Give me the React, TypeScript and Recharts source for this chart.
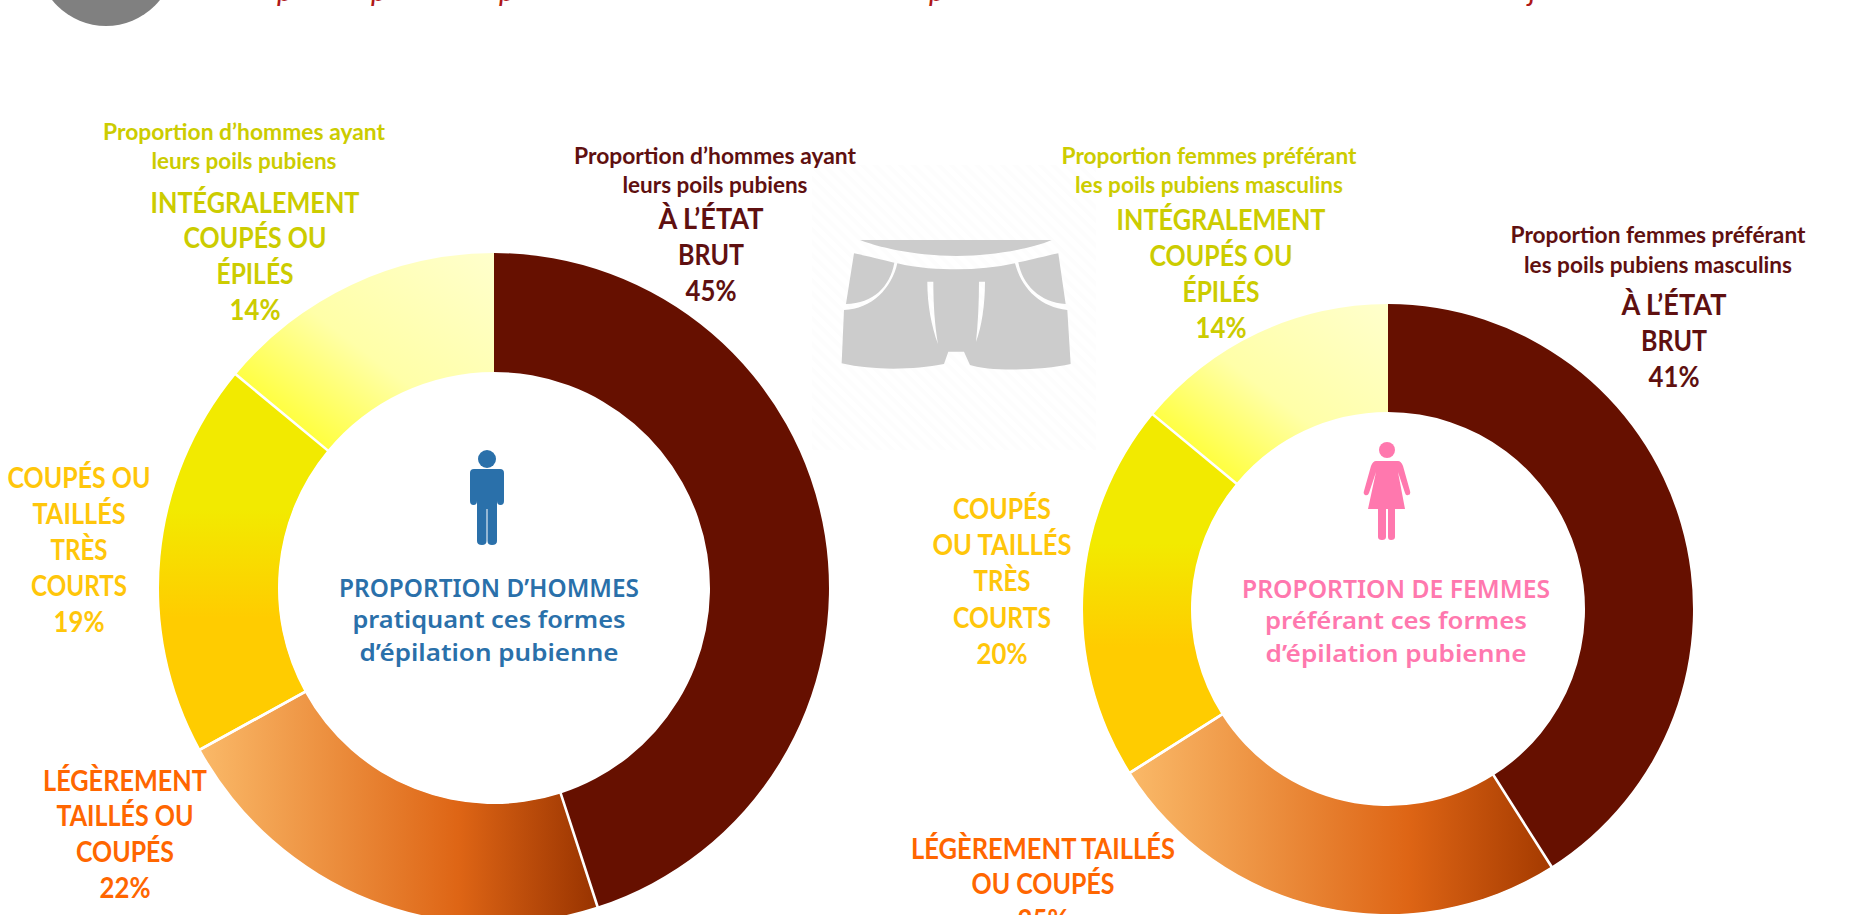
import React from "react";
import { PieChart, Pie, Cell } from "recharts";

const categories = ["À l'état brut", "Légèrement taillés ou coupés", "Coupés ou taillés très courts", "Intégralement coupés ou épilés"];
const menValues = [45, 22, 19, 14];
const womenValues = [41, 25, 20, 14];
const menData = categories.map((name, i) => ({ name, value: menValues[i] }));
const womenData = categories.map((name, i) => ({ name, value: womenValues[i] }));

const W = 1854, H = 915;
const fillsMen = ["#661000", "url(#orangeMen)", "url(#yellowMid)", "url(#paleMen)"];
const fillsWomen = ["#661000", "url(#orangeWomen)", "url(#yellowMid)", "url(#paleMen)"];
const separatorStroke = ["none", "#ffffff", "#ffffff", "none"];

const BODY = "Lato, Carlito, sans-serif";
const CENTER = "'Noto Sans', 'DejaVu Sans', sans-serif";
const C_OLIVE = "#cccc00", C_BROWN = "#5f1010", C_GOLD = "#ffc60a", C_ORANGE = "#ff6600", C_BLUE = "#2a70aa", C_PINK = "#ff78ae";

type L = [string, number, number, number];
const small = 22, big = 28;
const labels: { c: string; size: number; rows: L[] }[] = [
  { c: C_OLIVE, size: small, rows: [["Proportion d’hommes ayant", 244, 140, 282], ["leurs poils pubiens", 244, 169, 185]] },
  { c: C_OLIVE, size: big, rows: [["INTÉGRALEMENT", 255, 213, 209], ["COUPÉS OU", 255, 248, 143], ["ÉPILÉS", 255, 284, 77], ["14%", 255, 320, 51]] },
  { c: C_BROWN, size: small, rows: [["Proportion d’hommes ayant", 715, 164, 282], ["leurs poils pubiens", 715, 193, 185]] },
  { c: C_BROWN, size: big, rows: [["À L’ÉTAT", 711, 229, 105], ["BRUT", 711, 265, 66], ["45%", 711, 301, 51]] },
  { c: C_GOLD, size: big, rows: [["COUPÉS OU", 79, 488, 143], ["TAILLÉS", 79, 524, 93], ["TRÈS", 79, 560, 57], ["COURTS", 79, 596, 96], ["19%", 79, 632, 51]] },
  { c: C_ORANGE, size: big, rows: [["LÉGÈREMENT", 125, 791, 164], ["TAILLÉS OU", 125, 826, 137], ["COUPÉS", 125, 862, 98], ["22%", 125, 898, 51]] },
  { c: C_OLIVE, size: small, rows: [["Proportion femmes préférant", 1209, 164, 295], ["les poils pubiens masculins", 1209, 193, 268]] },
  { c: C_OLIVE, size: big, rows: [["INTÉGRALEMENT", 1221, 230, 209], ["COUPÉS OU", 1221, 266, 143], ["ÉPILÉS", 1221, 302, 77], ["14%", 1221, 338, 51]] },
  { c: C_BROWN, size: small, rows: [["Proportion femmes préférant", 1658, 243, 295], ["les poils pubiens masculins", 1658, 273, 268]] },
  { c: C_BROWN, size: big, rows: [["À L’ÉTAT", 1674, 315, 105], ["BRUT", 1674, 351, 66], ["41%", 1674, 387, 51]] },
  { c: C_GOLD, size: big, rows: [["COUPÉS", 1002, 519, 98], ["OU TAILLÉS", 1002, 555, 139], ["TRÈS", 1002, 591, 57], ["COURTS", 1002, 628, 98], ["20%", 1002, 664, 51]] },
  { c: C_ORANGE, size: big, rows: [["LÉGÈREMENT TAILLÉS", 1043, 859, 264], ["OU COUPÉS", 1043, 894, 143], ["25%", 1043, 930, 51]] },
];
const centerLabels: { c: string; size: number; rows: L[] }[] = [
  { c: C_BLUE, size: 25, rows: [["PROPORTION D’HOMMES", 489, 597, 300]] },
  { c: C_BLUE, size: 24, rows: [["pratiquant ces formes", 489, 628, 273], ["d’épilation pubienne", 489, 661, 259]] },
  { c: C_PINK, size: 25, rows: [["PROPORTION DE FEMMES", 1396, 598, 308]] },
  { c: C_PINK, size: 24, rows: [["préférant ces formes", 1396, 629, 262], ["d’épilation pubienne", 1396, 662, 261]] },
];
const clippedTitleMarks: [string, number][] = [["p", 277], ["p", 371], ["p", 499], ["p", 929], ["j", 1529]];

const Rows = ({ groups, font, weight }: { groups: typeof labels; font: string; weight: number }) => (
  <g>
    {groups.flatMap((g, gi) =>
      g.rows.map(([t, x, y, len], i) => (
        <text key={gi + "-" + i} x={x} y={y} textAnchor="middle" fill={g.c} fontFamily={font} fontWeight={weight} fontSize={g.size} textLength={len} lengthAdjust="spacingAndGlyphs">
          {t}
        </text>
      ))
    )}
  </g>
);

export default function App() {
  return (
    <div style={{ position: "absolute", left: 0, top: 0, width: W, height: H, overflow: "hidden", background: "#fff" }}>
      <PieChart width={W} height={H} margin={{ top: 0, right: 0, bottom: 0, left: 0 }}>
        <defs>
          <linearGradient id="orangeMen" x1="0" y1="0" x2="1" y2="0">
            <stop offset="0" stopColor="#fab968" />
            <stop offset="0.65" stopColor="#de6515" />
            <stop offset="1" stopColor="#983300" />
          </linearGradient>
          <linearGradient id="orangeWomen" x1="0" y1="0" x2="1" y2="0">
            <stop offset="0" stopColor="#fab968" />
            <stop offset="0.66" stopColor="#de6515" />
            <stop offset="1" stopColor="#a43a00" />
          </linearGradient>
          <linearGradient id="yellowMid" x1="0" y1="0" x2="0" y2="1">
            <stop offset="0.36" stopColor="#f2ea00" />
            <stop offset="0.65" stopColor="#ffcc00" />
            <stop offset="1" stopColor="#ffcc00" />
          </linearGradient>
          <linearGradient id="paleMen" x1="0" y1="1" x2="1" y2="0">
            <stop offset="0.18" stopColor="#ffff40" />
            <stop offset="0.5" stopColor="#ffffa8" />
            <stop offset="1" stopColor="#ffffcc" />
          </linearGradient>
          <pattern id="hatch" width="9" height="9" patternUnits="userSpaceOnUse" patternTransform="rotate(45)">
            <rect width="9" height="4" fill="#fdfdfd" />
          </pattern>
        </defs>

        <circle cx={106} cy={-43} r={69} fill="#808080" />
        {clippedTitleMarks.map(([t, x], i) => (
          <text key={i} x={x} y={1} fill="#b01818" fontFamily={BODY} fontStyle="italic" fontWeight={400} fontSize={30}>{t}</text>
        ))}

        <rect x={812} y={165} width={284} height={285} fill="url(#hatch)" />
        <g transform="translate(800 210) scale(0.3333)" fill="#cccccc">
          <path d="M180 90 L755 90 C690 118 570 138 470 138 C370 138 250 118 180 90 Z" />
          <path d="M162 130 C220 142 270 155 283 158 C270 230 220 280 138 282 Z" />
          <path d="M775 130 C720 142 680 152 655 157 C668 225 720 278 797 282 Z" />
          <path fillRule="evenodd" d="M132 300 C215 298 275 235 292 160 C350 175 420 178 470 178 C530 178 590 172 645 160 C665 235 720 292 802 300 L812 462 C720 482 570 485 510 465 L492 425 L445 425 L432 462 C340 480 220 482 125 460 Z M382 215 L400 215 C400 280 404 345 414 402 C395 350 382 285 382 215 Z M537 215 L555 215 C555 285 545 350 528 396 C534 340 537 280 537 215 Z" />
        </g>

        <Pie data={menData} dataKey="value" nameKey="name" cx={494} cy={588} outerRadius={335} innerRadius={216} startAngle={90} endAngle={-270} isAnimationActive={false} stroke="none">
          {menData.map((d, i) => <Cell key={d.name} fill={fillsMen[i]} stroke="none" />)}
        </Pie>
        <Pie data={menData} dataKey="value" nameKey="name" cx={494} cy={588} outerRadius={337} innerRadius={214} startAngle={90} endAngle={-270} isAnimationActive={false} fill="none" stroke="none">
          {menData.map((d, i) => <Cell key={d.name} fill="none" stroke={separatorStroke[i]} strokeWidth={2.6} />)}
        </Pie>
        <Pie data={womenData} dataKey="value" nameKey="name" cx={1388} cy={609} outerRadius={305} innerRadius={197} startAngle={90} endAngle={-270} isAnimationActive={false} stroke="none">
          {womenData.map((d, i) => <Cell key={d.name} fill={fillsWomen[i]} stroke="none" />)}
        </Pie>
        <Pie data={womenData} dataKey="value" nameKey="name" cx={1388} cy={609} outerRadius={307} innerRadius={195} startAngle={90} endAngle={-270} isAnimationActive={false} fill="none" stroke="none">
          {womenData.map((d, i) => <Cell key={d.name} fill="none" stroke={separatorStroke[i]} strokeWidth={2.6} />)}
        </Pie>

        <g fill={C_BLUE}>
          <circle cx={487} cy={459} r={9} />
          <path d="M474 469 H500 Q504 469 504 473 V501 Q504 505 500.5 505 Q497 505 497 501 V541 Q497 545 492 545 Q487.5 545 487.5 541 V509 H486.5 V541 Q486.5 545 482 545 Q477 545 477 541 V501 Q477 505 473.5 505 Q470 505 470 501 V473 Q470 469 474 469 Z" />
        </g>
        <g fill={C_PINK}>
          <circle cx={1387} cy={450} r={8} />
          <path d="M1376 461 H1398 Q1401 461 1403 466 L1410 491 Q1411 495 1408 495 Q1406 496 1405 493 L1398 472 L1405 509 H1395 V537 Q1395 540 1391 540 Q1388 540 1388 537 V509 H1386 V537 Q1386 540 1382 540 Q1378 540 1378 537 V509 H1368 L1376 472 L1369 493 Q1368 496 1365 495 Q1363 494 1364 491 L1371 466 Q1373 461 1376 461 Z" />
        </g>

        <Rows groups={labels} font={BODY} weight={700} />
        <Rows groups={centerLabels} font={CENTER} weight={600} />
      </PieChart>
    </div>
  );
}
